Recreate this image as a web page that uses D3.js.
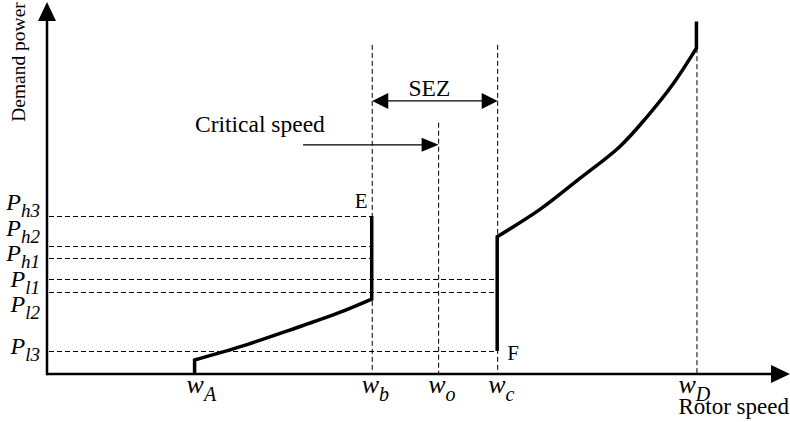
<!DOCTYPE html>
<html>
<head>
<meta charset="utf-8">
<script src="https://cdn.jsdelivr.net/npm/d3@7"></script>
<style>
  body { margin: 0; background: #fff; }
  svg { display: block; }
  text { font-family: "Liberation Serif", "Times New Roman", serif; fill: #000; }
</style>
</head>
<body>
<svg id="chart" width="790" height="422"></svg>
<script>
'use strict';

// rotor speed marks on the x axis
const speedNames = ["A", "b", "o", "c", "D"];
const speedValues = [20, 44, 53, 61, 88];

// demand power levels (letter, index)
const powerNames = [["h", "3"], ["h", "2"], ["h", "1"], ["l", "1"], ["l", "2"], ["l", "3"]];
const powerValues = [42.8, 34.7, 31.4, 25.7, 22.2, 6.2];
// which speed mark each dashed power line runs to
const powerEnds = ["b", "b", "b", "c", "c", "c"];

// demand power curve below the SEZ (from wA up to E)
const lowSpeed = [20, 20, 26.2, 32.9, 39.3, 44, 44];
const lowPower = [0, 3.8, 7.4, 11.9, 16.4, 20.3, 42.8];

// demand power curve above the SEZ (from F up past wD)
const highSpeed = [61, 61, 66.8, 72.2, 77.6, 81.3, 84.9, 88, 88];
const highPower = [6.2, 37.2, 44.6, 53.0, 61.6, 69.7, 78.8, 88.3, 95.5];

const svg = d3.select("#chart");

const x = d3.scaleLinear().domain([0, 100]).range([47, 785]);
const y = d3.scaleLinear().domain([0, 100]).range([374, 5]);

const speedAt = name => speedValues[speedNames.indexOf(name)];

// dashed guides ------------------------------------------------------------
const dash = "5,3";

// vertical guides at wb, wo, wc, wD
const guideTop = { b: 89.2, o: 68.1, c: 89.2, D: 88.3 };
svg.append("g").selectAll("line")
    .data(["b", "o", "c", "D"])
    .enter().append("line")
    .attr("x1", d => x(speedAt(d)) + 0.5)
    .attr("x2", d => x(speedAt(d)) + 0.5)
    .attr("y1", d => y(guideTop[d]))
    .attr("y2", y(0))
    .attr("stroke", "#000")
    .attr("stroke-width", 1)
    .attr("stroke-dasharray", dash);

// horizontal guides for the power levels
svg.append("g").selectAll("line")
    .data(powerValues)
    .enter().append("line")
    .attr("x1", x(0) + 2)
    .attr("x2", (d, i) => x(speedAt(powerEnds[i])))
    .attr("y1", d => Math.round(y(d)) + 0.5)
    .attr("y2", d => Math.round(y(d)) + 0.5)
    .attr("stroke", "#000")
    .attr("stroke-width", 1)
    .attr("stroke-dasharray", dash);

// curves ---------------------------------------------------------------------
// straight vertical ends, smooth part in between
const smooth = d3.line()
    .x(d => x(d[0]))
    .y(d => y(d[1]))
    .curve(d3.curveCatmullRom.alpha(0.5));

[[lowSpeed, lowPower], [highSpeed, highPower]].forEach(function (s) {
    const pts = d3.zip(s[0], s[1]);
    const first = pts[0], last = pts[pts.length - 1];
    const mid = smooth(pts.slice(1, -1));
    const d = "M" + x(first[0]) + "," + y(first[1]) +
        "L" + mid.slice(1) +
        "L" + x(last[0]) + "," + y(last[1]);
    svg.append("path")
        .attr("d", d)
        .attr("fill", "none")
        .attr("stroke", "#000")
        .attr("stroke-width", 3.5)
        .attr("stroke-linejoin", "miter");
});

// axes -----------------------------------------------------------------------
svg.append("line")
    .attr("x1", x(0)).attr("x2", 780)
    .attr("y1", y(0)).attr("y2", y(0))
    .attr("stroke", "#000").attr("stroke-width", 2.5);
svg.append("line")
    .attr("x1", x(0)).attr("x2", x(0))
    .attr("y1", y(0) + 1.2).attr("y2", 12)
    .attr("stroke", "#000").attr("stroke-width", 2.5);

function arrowHead(tx, ty, angle, len, half) {
    // triangle pointing along angle (radians), tip at (tx, ty)
    const bx = tx - len * Math.cos(angle), by = ty - len * Math.sin(angle);
    const px = -Math.sin(angle) * half, py = Math.cos(angle) * half;
    svg.append("path")
        .attr("d", "M" + tx + "," + ty + "L" + (bx + px) + "," + (by + py) + "L" + (bx - px) + "," + (by - py) + "Z")
        .attr("fill", "#000");
}
arrowHead(790, y(0), 0, 19, 9);
arrowHead(x(0), 2, -Math.PI / 2, 19, 9);

// axis titles
svg.append("text")
    .attr("transform", "translate(" + 25 + "," + 62 + ") rotate(-90)")
    .attr("text-anchor", "middle")
    .style("font-size", "19.5px")
    .text("Demand power");

svg.append("text")
    .attr("x", 789).attr("y", 414)
    .attr("text-anchor", "end")
    .style("font-size", "23px")
    .text("Rotor speed");

// speed labels w_A ... w_D
const speedDx = { A: -8, b: -10, o: -10, c: -9, D: -18 };
const sl = svg.append("g").selectAll("text")
    .data(speedNames)
    .enter().append("text")
    .attr("x", d => x(speedAt(d)) + speedDx[d])
    .attr("y", 393)
    .style("font-size", "26px")
    .style("font-style", "italic");
sl.append("tspan").text("w");
sl.append("tspan")
    .attr("dy", 8)
    .style("font-size", "20px")
    .text(d => d);

// power labels, spread apart so they do not overlap
const gap = 25.5;
const ly = powerValues.map(v => y(v) + 3);
for (let k = 0; k < 60; k++) {
    for (let i = 1; i < ly.length; i++) {
        const diff = ly[i] - ly[i - 1];
        if (diff < gap) {
            const d = (gap - diff) / 2;
            ly[i - 1] -= d;
            ly[i] += d;
        }
    }
}
const pl = svg.append("g").selectAll("text")
    .data(powerNames)
    .enter().append("text")
    .attr("x", 40)
    .attr("y", (d, i) => ly[i])
    .attr("text-anchor", "end")
    .style("font-size", "24px")
    .style("font-style", "italic");
pl.append("tspan").text("P");
pl.append("tspan")
    .attr("dy", 7)
    .style("font-size", "19px")
    .text(d => d[0] + d[1]);

// point labels E and F
svg.append("text")
    .attr("x", x(44) - 17).attr("y", y(42.8) - 8)
    .style("font-size", "21px")
    .text("E");
svg.append("text")
    .attr("x", x(61) + 10).attr("y", y(6.2) + 9)
    .style("font-size", "21px")
    .text("F");

// SEZ double arrow
const sezY = y(74);
svg.append("line")
    .attr("x1", x(speedAt("b")) + 8).attr("x2", x(speedAt("c")) - 8)
    .attr("y1", sezY).attr("y2", sezY)
    .attr("stroke", "#000").attr("stroke-width", 1.2);
arrowHead(x(speedAt("b")) + 0.5, sezY, Math.PI, 16, 8);
arrowHead(x(speedAt("c")) + 0.5, sezY, 0, 16, 8);
svg.append("text")
    .attr("x", (x(speedAt("b")) + x(speedAt("c"))) / 2 - 5)
    .attr("y", sezY - 4.5)
    .attr("text-anchor", "middle")
    .style("font-size", "23.5px")
    .text("SEZ");

// critical speed arrow
const critY = y(62.1);
svg.append("line")
    .attr("x1", x(34.7)).attr("x2", x(speedAt("o")) - 10)
    .attr("y1", critY).attr("y2", critY)
    .attr("stroke", "#000").attr("stroke-width", 1.2);
arrowHead(x(speedAt("o")) + 0.5, critY, 0, 17, 7);
svg.append("text")
    .attr("x", 195).attr("y", critY - 13)
    .style("font-size", "23.5px")
    .text("Critical speed");
</script>
</body>
</html>
